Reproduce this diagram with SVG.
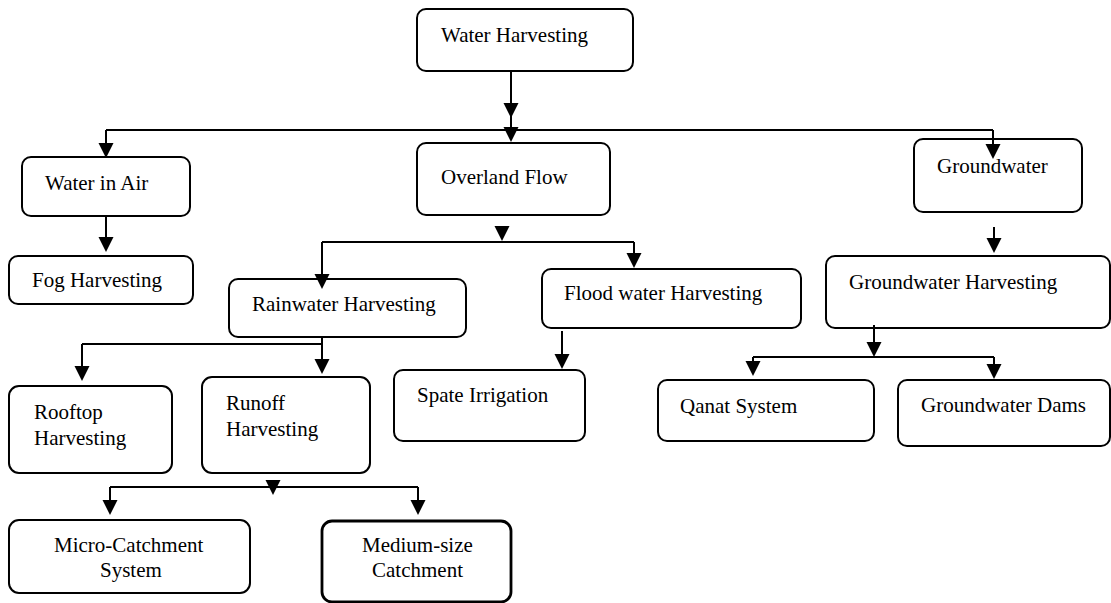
<svg xmlns="http://www.w3.org/2000/svg" xmlns:xlink="http://www.w3.org/1999/xlink" width="1111" height="603" viewBox="0 0 1111 603">
<style>
.box{fill:#fff;stroke:#000;stroke-width:2}
.thick{stroke-width:2.8}
text{font-family:'Liberation Serif','Times New Roman','DejaVu Serif',serif;font-size:21px;fill:#000}
.ln{fill:none;stroke:#000;stroke-width:2}
</style>
<defs>
<path id="ah" d="M-7.5,-15 L7.5,-15 L0,0 Z" fill="#000"/>
</defs>
<rect width="1111" height="603" fill="#fff"/>
<g id="n-water-harvesting"><rect class="box" x="417" y="9" width="216" height="62" rx="9"/><text x="441" y="42">Water Harvesting</text></g>
<g id="n-water-in-air"><rect class="box" x="22" y="157" width="168" height="59" rx="9"/><text x="45" y="190">Water in Air</text></g>
<g id="n-overland-flow"><rect class="box" x="417" y="143" width="193" height="72" rx="9"/><text x="441" y="184">Overland Flow</text></g>
<g id="n-groundwater"><rect class="box" x="914" y="139" width="168" height="73" rx="9"/><text x="937" y="173">Groundwater</text></g>
<g id="n-fog"><rect class="box" x="9" y="256" width="184" height="48" rx="9"/><text x="32" y="287">Fog Harvesting</text></g>
<g id="n-rainwater"><rect class="box" x="229" y="279" width="237" height="58" rx="9"/><text x="252" y="311">Rainwater Harvesting</text></g>
<g id="n-flood"><rect class="box" x="542" y="269" width="259" height="59" rx="9"/><text x="564" y="300">Flood water Harvesting</text></g>
<g id="n-gw-harvesting"><rect class="box" x="826" y="256" width="284" height="72" rx="9"/><text x="849" y="289">Groundwater Harvesting</text></g>
<g id="n-spate"><rect class="box" x="394" y="370" width="191" height="71" rx="9"/><text x="417" y="402">Spate Irrigation</text></g>
<g id="n-qanat"><rect class="box" x="658" y="380" width="216" height="61" rx="9"/><text x="680" y="413">Qanat System</text></g>
<g id="n-gw-dams"><rect class="box" x="898" y="380" width="212" height="66" rx="9"/><text x="921" y="412">Groundwater Dams</text></g>
<g id="n-rooftop"><rect class="box" x="9" y="386" width="163" height="87" rx="10"/><text x="34" y="419">Rooftop</text><text x="34" y="445">Harvesting</text></g>
<g id="n-runoff"><rect class="box" x="202" y="377" width="168" height="96" rx="10"/><text x="226" y="410">Runoff</text><text x="226" y="436">Harvesting</text></g>
<g id="n-micro"><rect class="box" x="9" y="520" width="241" height="73" rx="10"/><text x="54" y="552">Micro-Catchment</text><text x="100" y="577">System</text></g>
<g id="n-medium"><rect class="box thick" x="322" y="521" width="189" height="81" rx="10"/><text x="362" y="552">Medium-size</text><text x="372" y="577">Catchment</text></g>
<g id="connectors">
<path class="ln" d="M511,71 V135 M106,130 H993 M106,130 V150 M993,130 V150"/>
<use xlink:href="#ah" x="511" y="118"/>
<use xlink:href="#ah" x="511" y="142"/>
<use xlink:href="#ah" x="106" y="158"/>
<use xlink:href="#ah" x="993" y="159"/>
<path class="ln" d="M106,216 V245"/>
<use xlink:href="#ah" x="106" y="252"/>
<path class="ln" d="M322,242 H634 M322,242 V282 M634,242 V262"/>
<use xlink:href="#ah" x="502" y="241"/>
<use xlink:href="#ah" x="322" y="289"/>
<use xlink:href="#ah" x="634" y="268"/>
<path class="ln" d="M994,227 V246"/>
<use xlink:href="#ah" x="994" y="253"/>
<path class="ln" d="M322,337 V368 M82,344 H322 M82,344 V374"/>
<use xlink:href="#ah" x="322" y="374"/>
<use xlink:href="#ah" x="82" y="381"/>
<path class="ln" d="M562,331 V362"/>
<use xlink:href="#ah" x="562" y="369"/>
<path class="ln" d="M874,325 V352 M753,357 H994 M753,357 V370 M994,357 V372"/>
<use xlink:href="#ah" x="874" y="357"/>
<use xlink:href="#ah" x="753" y="376"/>
<use xlink:href="#ah" x="994" y="379"/>
<path class="ln" d="M110,487 H418 M110,487 V508 M418,487 V508"/>
<use xlink:href="#ah" x="273" y="495"/>
<use xlink:href="#ah" x="110" y="515"/>
<use xlink:href="#ah" x="418" y="515"/>
</g>
</svg>
